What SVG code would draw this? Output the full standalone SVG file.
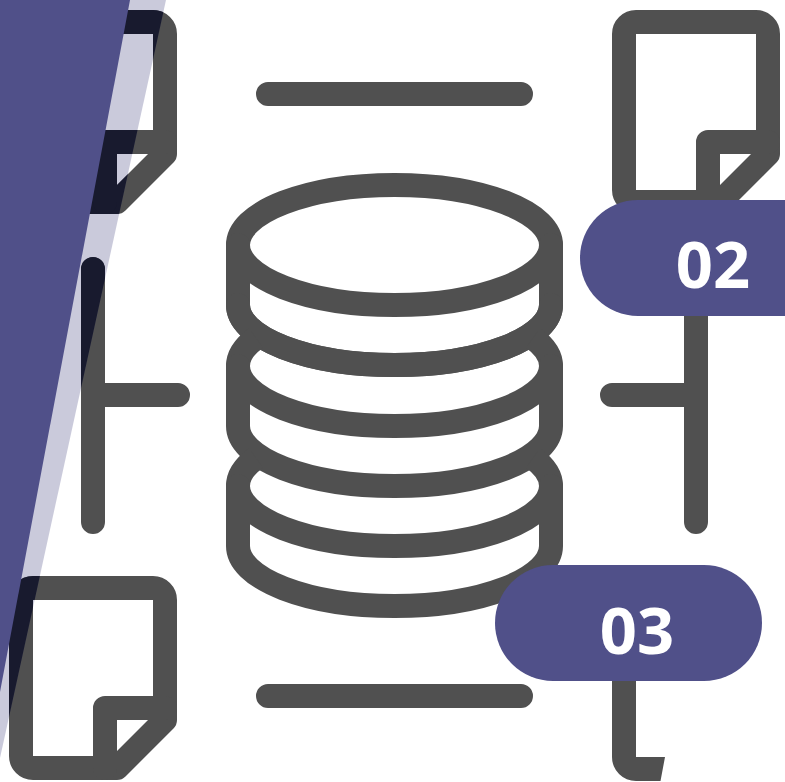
<svg xmlns="http://www.w3.org/2000/svg" width="785" height="782" viewBox="0 0 785 782">
<style>
.i{fill:none;stroke:currentColor;stroke-width:24;stroke-linecap:round;stroke-linejoin:round}
.b{stroke-linecap:butt}
.t{font-family:"Open Sans","Noto Sans",sans-serif;font-weight:700;font-size:65px;fill:#fff;text-anchor:middle}
.p{fill:#505089}
</style>
<defs>
<clipPath id="band"><polygon points="0,0 166,0 0,758"/></clipPath>
<g id="doc"><path class="i" d="M33 22H153A12 12 0 0 1 165 34V154L117 202H33A12 12 0 0 1 21 190V34A12 12 0 0 1 33 22Z"/><path class="i" d="M165 142H105V202"/></g>
<g id="art">
<g id="doc-top-left"><use href="#doc"/></g>
<g id="doc-top-right"><use href="#doc" x="603"/></g>
<g id="doc-bottom-left"><use href="#doc" y="566"/></g>
<g id="doc-bottom-right"><path d="M612 670H636V757H665L660.500 781H636A24 24 0 0 1 612 757Z" fill="currentColor"/></g>
<g id="connectors">
<path class="i" d="M268 94H521M268 696H521M93 269V522M93 395H178M696 300V522M612 395H696"/>
</g>
<g id="database">
<ellipse class="i" cx="394.500" cy="245" rx="156.500" ry="60"/>
<path class="i" d="M238 245V305A156.500 60 0 0 0 551 305V245"/>
<path class="i" d="M238 305A156.500 60 0 0 0 551 305"/>
<path class="i b" d="M256 338A156.500 60 0 0 0 238 366A156.500 60 0 0 0 551 366A156.500 60 0 0 0 533 338"/>
<path class="i" d="M238 366V426A156.500 60 0 0 0 551 426V366"/>
<path class="i b" d="M256 458A156.500 60 0 0 0 238 486A156.500 60 0 0 0 551 486A156.500 60 0 0 0 533 458"/>
<path class="i" d="M238 486V546A156.500 60 0 0 0 551 546V486"/>
</g>
</g>
</defs>
<rect width="785" height="782" fill="#fff"/>
<use href="#art" color="#505050"/>
<g id="band-light"><polygon points="0,0 166,0 0,758" class="p" fill-opacity=".3"/></g>
<g id="band-dark" clip-path="url(#band)"><use href="#art" color="#181a2e"/></g>
<g id="wedge"><polygon points="0,0 130,0 0,692" class="p"/></g>
<g id="pill-02"><path d="M785 200H638A58 58 0 0 0 638 316H785Z" class="p"/><text x="713" y="288" class="t">02</text></g>
<g id="pill-03"><rect x="495" y="565" width="267" height="116" rx="58" class="p"/><text x="637" y="654" class="t">03</text></g>
</svg>
